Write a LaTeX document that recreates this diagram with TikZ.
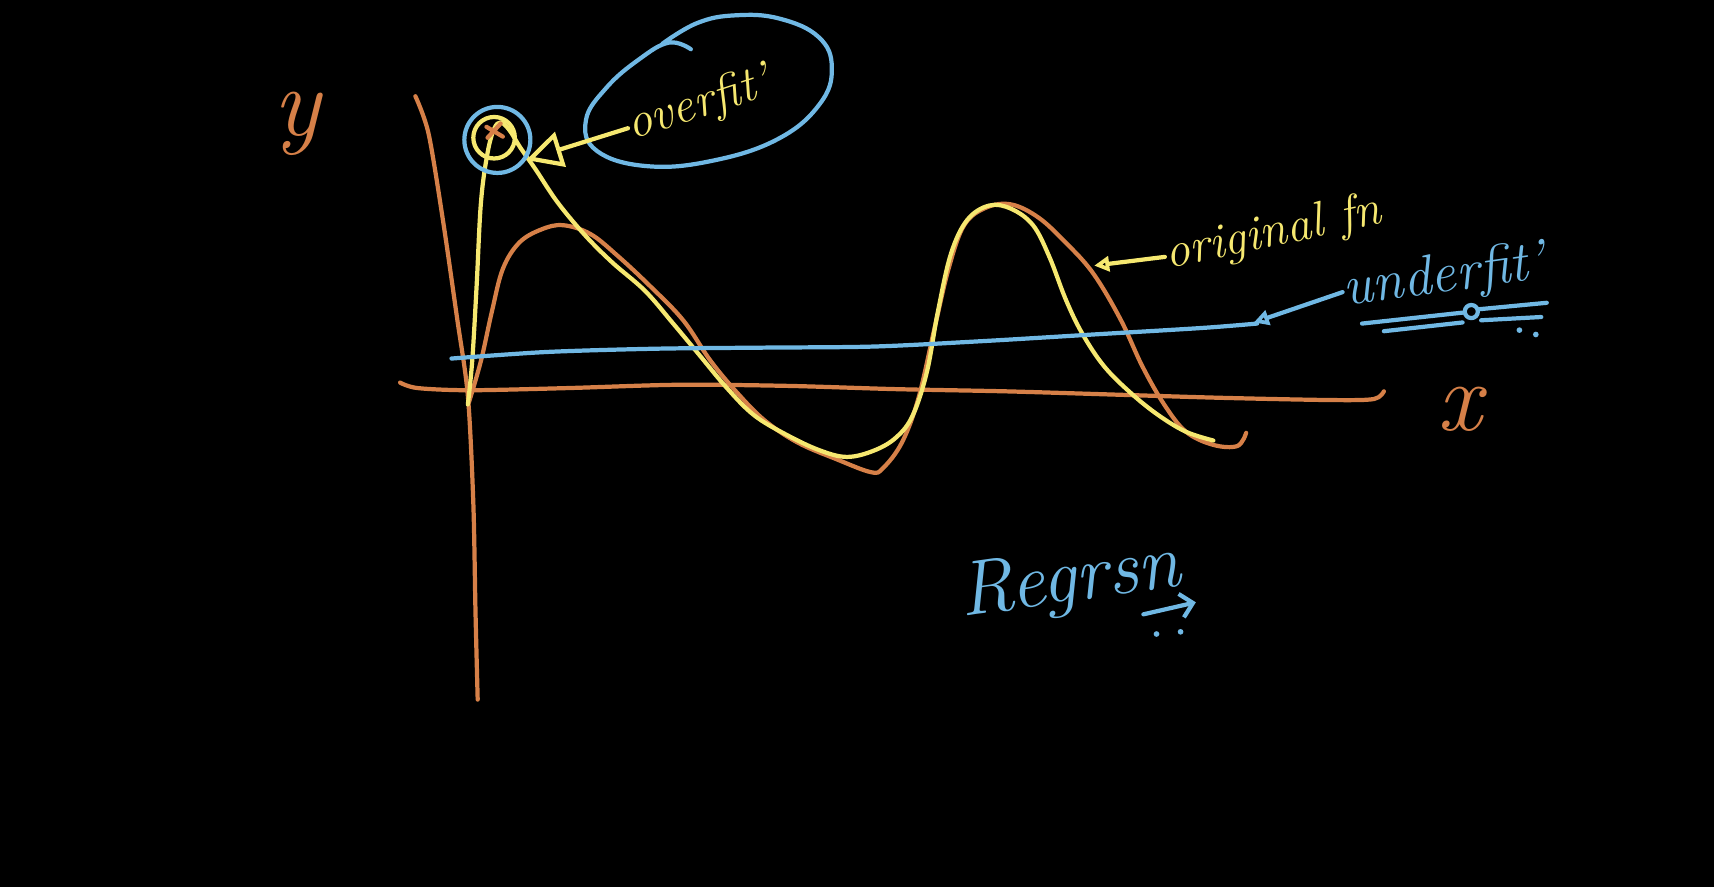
\documentclass[tikz,border=0pt]{standalone}
\usepackage{tikz}
\usetikzlibrary{arrows.meta}
\definecolor{penorange}{RGB}{214,128,72}
\definecolor{penyellow}{RGB}{246,232,112}
\definecolor{penblue}{RGB}{112,184,228}

\begin{document}
\begin{tikzpicture}[x=0.010931cm, y=-0.010931cm,
  pen/.style={line width=1.2pt, line cap=round, line join=round},
  hand/.style={font=\itshape\fontsize{#1}{#1}\selectfont, inner sep=0pt},
  tri/.style={-{Triangle[open, length=#1, width=#1]}}]
  \fill [black] (0,0) rectangle (1568,811);

  % axes
  \draw [pen, penorange] plot[smooth] coordinates {(380,88) (392,122) (405,200) (418,290) (428,362) (433,460) (435,560) (437,640)};
  \draw [pen, penorange] plot[smooth] coordinates {(366,350) (382,355) (430,357) (520,355) (620,352) (720,353) (820,356) (920,358) (1020,361) (1120,364) (1220,366) (1257,365) (1266,358)};
  \node [hand=28, penorange] (ylab) at (272,113) {y};
  \node [hand=28, penorange] (xlab) at (1335,374) {x};

  % original function
  \draw [pen, penorange] plot[smooth, tension=0.6] coordinates {(429,368) (440,330) (450,285) (460,246) (475,222) (495,210) (515,206) (540,214) (565,234) (595,262) (625,293) (650,330) (675,360) (700,385) (730,405) (765,420) (797,432) (808,428) (825,405) (840,365) (855,300) (868,245) (882,206) (902,190) (925,187) (950,199) (975,222) (1000,250) (1025,292) (1045,335) (1065,370) (1085,395) (1110,407) (1132,408) (1140,396)};

  % overfit curve
  \draw [pen, penyellow] plot[smooth, tension=0.6] coordinates {(428,370) (432,330) (436,262) (440,185) (446,140) (452,118) (458,112) (466,119) (476,135) (490,155) (510,185) (535,215) (560,240) (590,266) (615,295) (640,325) (665,355) (690,380) (720,398) (750,412) (775,418) (800,412) (820,400) (835,380) (848,340) (858,285) (870,232) (885,201) (905,188) (925,191) (945,206) (960,235) (975,274) (990,305) (1010,335) (1035,360) (1060,380) (1085,395) (1110,403)};

  % underfit line
  \draw [pen, penblue] plot[smooth] coordinates {(413,328) (500,322) (600,319) (700,318) (800,317) (900,312) (1000,306) (1100,300) (1150,296)};

  % marked point
  \node [circle, draw=penblue, pen, minimum size=0.66cm, inner sep=0pt] (peak) at (455,128) {};
  \draw [pen, penyellow] (452,126) circle (19);
  \draw [pen, penorange] (445,116)--(460,125) (446,126)--(458,113);

  \draw [pen, penblue] plot[smooth, tension=0.7] coordinates {(632,45) (612,39) (585,54) (555,80) (536,110) (546,138) (592,152) (652,147) (712,127) (750,95) (761,62) (749,34) (713,17) (673,14) (638,21) (606,40)};

  \node [hand=14, penyellow, rotate=18, anchor=base west] (over) at (578,128) {overfit'};
  \node [hand=14, penyellow, rotate=12, anchor=base west] (orig) at (1068,246) {original fn};
  \node [hand=16, penblue, rotate=8, anchor=base west] (under) at (1230,280) {underfit'};
  \node [hand=22, penblue, rotate=8, anchor=base west] (reg) at (880,564) {Regrsn};

  \coordinate (ofn) at (1001,243);
  \coordinate (uf) at (1147,295);
  \draw [pen, penyellow, tri=0.36cm] (over.west) -- (peak.-35);
  \draw [pen, penyellow, tri=0.15cm] (orig.west) -- (ofn);
  \draw [pen, penblue, tri=0.15cm] (under.west) -- (uf);

  % marks under the labels
  \draw [pen, penblue] (1246,296)--(1338,286) (1352,283)--(1415,277) (1266,303)--(1338,295) (1355,293)--(1410,290);
  \draw [pen, penblue] (1346,285) circle (6);
  \draw [pen, penblue, -{Straight Barb[length=0.12cm]}] (1046,562)--(1094,551);
  \foreach \x/\y in {1390/302,1405/306,1058/580,1080/578}
    \fill [penblue] (\x,\y) circle (2.6);
\end{tikzpicture}
\end{document}
